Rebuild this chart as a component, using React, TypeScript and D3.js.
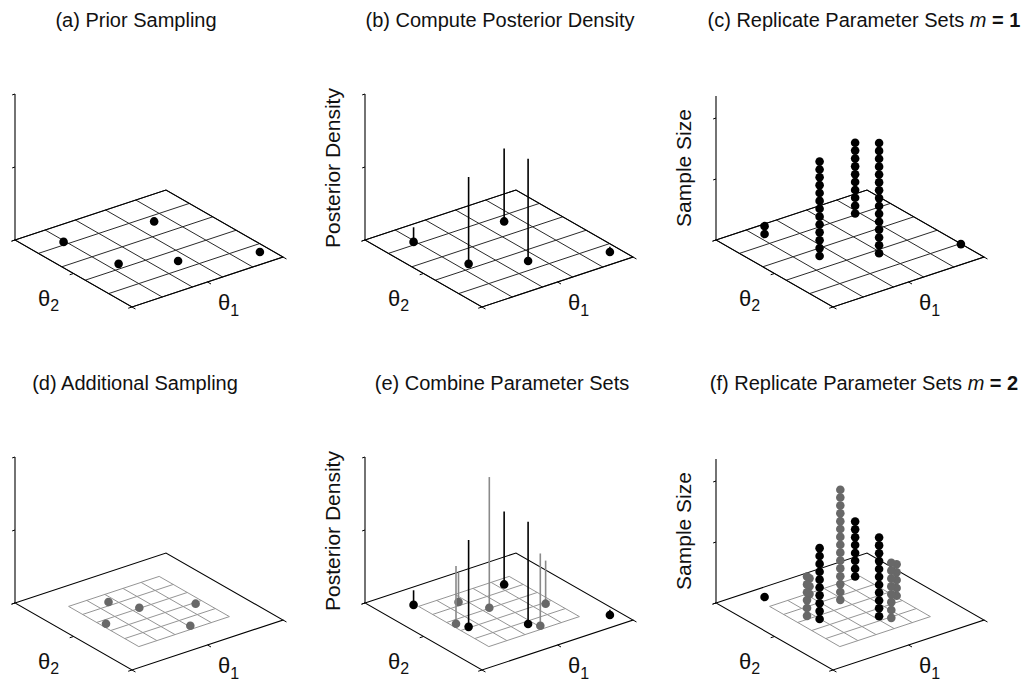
import React from "react";
import * as d3 from "d3";

// Prior draws (theta1, theta2) and their posterior densities
const priorTheta1 = [1.9, 7.2, 2.6, 5.3, 9.4];
const priorTheta2 = [1.7, 2.6, 5.5, 7.1, 8.8];
const priorDensity = [0.2, 1.0, 1.19, 1.4, 0.07];
const priorReplicatesM1 = [2, 10, 13, 15, 1];

// Additional draws inside the refined region
const addTheta1 = [4.0, 4.87, 7.53, 2.3, 5.69];
const addTheta2 = [2.83, 4.34, 5.72, 4.81, 7.64];
const addDensity = [0.4, 1.79, 0.59, 0.79, 0.99];

// Replicate counts after combining (m = 2)
const priorReplicatesM2 = [1, 8, 10, 11, 0];
const addReplicatesM2 = [3, 15, 5, 6, 8];

// Axes
const thetaDomain = [0, 10];
const outerGridTicks = [0, 2, 4, 6, 8, 10];
const innerGridTicks = [2, 3.2, 4.4, 5.6, 6.8, 8];
const thetaAxisTicks = [0, 5, 10];
const densityDomain = [0, 2];
const densityTicks = [0, 1, 2];
const sampleDomain = [0, 18.3];
const sampleTicks = [0, 7.75, 15.5];

const W = 1023;
const H = 683;
const FONT = "'Liberation Sans', Arial, Helvetica, sans-serif";
const E1 = [151, -50]; // screen vector spanning theta1
const E2 = [117, 67]; // screen vector spanning theta2
const BLACK = "#000";
const GREY = "#686868";
const GREY_STEM = "#8a8a8a";
const DOT_R = 4.3;

const s1 = d3.scaleLinear().domain(thetaDomain).range([0, 1]);
const s2 = d3.scaleLinear().domain(thetaDomain).range([0, 1]);
const zDensity = d3.scaleLinear().domain(densityDomain).range([0, 146]);
const zSample = d3.scaleLinear().domain(sampleDomain).range([0, 144]);

type Mark = {
  t1: number;
  t2: number;
  color: string;
  stemColor?: string;
  density?: number;
  count?: number;
};

type PanelCfg = {
  ox: number;
  oy: number;
  zKind: "density" | "sample";
  grid: "full" | "inner";
  ylabel?: string;
  marks: Mark[];
};

const toMarks = (
  t1: number[],
  t2: number[],
  color: string,
  extra: (i: number) => Partial<Mark>
): Mark[] => t1.map((v, i) => ({ t1: v, t2: t2[i], color, ...extra(i) }));

function Panel({ cfg }: { cfg: PanelCfg }) {
  const { ox, oy } = cfg;
  const z = cfg.zKind === "density" ? zDensity : zSample;
  const zTicks = cfg.zKind === "density" ? densityTicks : sampleTicks;
  const zMax = cfg.zKind === "density" ? densityDomain[1] : sampleDomain[1];
  const P = (t1: number, t2: number, h = 0): [number, number] => [
    ox + s1(t1) * E1[0] + s2(t2) * E2[0],
    oy + s1(t1) * E1[1] + s2(t2) * E2[1] - h,
  ];
  const [lo, hi] = thetaDomain;
  const n1 = Math.hypot(E1[0], E1[1]);
  const n2 = Math.hypot(E2[0], E2[1]);
  const u1 = [E1[0] / n1, E1[1] / n1];
  const u2 = [E2[0] / n2, E2[1] / n2];

  const gridTicks = cfg.grid === "full" ? outerGridTicks : innerGridTicks;
  const gLo = gridTicks[0];
  const gHi = gridTicks[gridTicks.length - 1];
  const gridLines: [number, number][][] = [];
  gridTicks.forEach((t) => {
    gridLines.push([P(t, gLo), P(t, gHi)]);
    gridLines.push([P(gLo, t), P(gHi, t)]);
  });
  const corners = [P(lo, lo), P(hi, lo), P(hi, hi), P(lo, hi)];

  const depth = (m: Mark) => s1(m.t1) * E1[1] + s2(m.t2) * E2[1];
  const marks = [...cfg.marks].sort((a, b) => depth(a) - depth(b));
  const line = d3.line();

  return (
    <g>
      {/* floor grid */}
      {gridLines.map((l, i) => (
        <path
          key={"g" + i}
          d={line(l) || ""}
          stroke={cfg.grid === "full" ? "#2a2a2a" : "#959595"}
          strokeWidth={1}
          fill="none"
        />
      ))}
      <path d={(line(corners) || "") + "Z"} stroke={BLACK} strokeWidth={1.1} fill="none" />
      {/* vertical axis */}
      <line x1={ox} y1={oy} x2={ox} y2={oy - z(zMax)} stroke={BLACK} strokeWidth={1.1} />
      {zTicks.map((t, i) => (
        <line
          key={"zt" + i}
          x1={ox}
          y1={oy - z(t)}
          x2={ox - u1[0] * 3}
          y2={oy - z(t) - u1[1] * 3}
          stroke={BLACK}
          strokeWidth={1}
        />
      ))}
      {/* theta axis ticks */}
      {thetaAxisTicks.map((t, i) => {
        const a = P(lo, t);
        const b = P(t, hi);
        return (
          <g key={"tt" + i}>
            <line x1={a[0]} y1={a[1]} x2={a[0] - u1[0] * 4} y2={a[1] - u1[1] * 4} stroke={BLACK} />
            <line x1={b[0]} y1={b[1]} x2={b[0] + u2[0] * 4} y2={b[1] + u2[1] * 4} stroke={BLACK} />
          </g>
        );
      })}
      {/* theta labels */}
      <text x={ox + 23} y={oy + 66} fontSize={22} fontFamily={FONT} fill="#111">
        θ<tspan fontSize={16} dy={5}>2</tspan>
      </text>
      <text x={ox + 203} y={oy + 70} fontSize={22} fontFamily={FONT} fill="#111">
        θ<tspan fontSize={16} dy={6}>1</tspan>
      </text>
      {cfg.ylabel && (
        <text
          transform={`translate(${ox - 25},${oy - 72}) rotate(-90)`}
          textAnchor="middle"
          fontSize={21}
          fontFamily={FONT}
          fill="#111"
        >
          {cfg.ylabel}
        </text>
      )}
      {/* samples */}
      {marks.map((m, i) => {
        const base = P(m.t1, m.t2);
        if (m.count !== undefined) {
          const ks = d3.range(1, m.count + 1);
          return (
            <g key={"m" + i}>
              {ks.map((k) => (
                <circle key={k} cx={base[0]} cy={base[1] - z(k)} r={DOT_R} fill={m.color} />
              ))}
            </g>
          );
        }
        return (
          <g key={"m" + i}>
            {m.density !== undefined && (
              <line
                x1={base[0]}
                y1={base[1]}
                x2={base[0]}
                y2={base[1] - z(m.density)}
                stroke={m.stemColor || m.color}
                strokeWidth={1.6}
              />
            )}
            <circle cx={base[0]} cy={base[1]} r={DOT_R} fill={m.color} />
          </g>
        );
      })}
    </g>
  );
}

const rows = [240, 603];
const cols = [15, 365, 716];

const panels: PanelCfg[] = [
  {
    ox: cols[0], oy: rows[0], zKind: "density", grid: "full",
    marks: toMarks(priorTheta1, priorTheta2, BLACK, () => ({})),
  },
  {
    ox: cols[1], oy: rows[0], zKind: "density", grid: "full", ylabel: "Posterior Density",
    marks: toMarks(priorTheta1, priorTheta2, BLACK, (i) => ({ density: priorDensity[i] })),
  },
  {
    ox: cols[2], oy: rows[0], zKind: "sample", grid: "full", ylabel: "Sample Size",
    marks: toMarks(priorTheta1, priorTheta2, BLACK, (i) => ({ count: priorReplicatesM1[i] })),
  },
  {
    ox: cols[0], oy: rows[1], zKind: "density", grid: "inner",
    marks: toMarks(addTheta1, addTheta2, GREY, () => ({})),
  },
  {
    ox: cols[1], oy: rows[1], zKind: "density", grid: "inner", ylabel: "Posterior Density",
    marks: [
      ...toMarks(priorTheta1, priorTheta2, BLACK, (i) => ({ density: priorDensity[i] })),
      ...toMarks(addTheta1, addTheta2, GREY, (i) => ({ density: addDensity[i], stemColor: GREY_STEM })),
    ],
  },
  {
    ox: cols[2], oy: rows[1], zKind: "sample", grid: "inner", ylabel: "Sample Size",
    marks: [
      ...toMarks(priorTheta1, priorTheta2, BLACK, (i) => ({ count: priorReplicatesM2[i] })),
      ...toMarks(addTheta1, addTheta2, GREY, (i) => ({ count: addReplicatesM2[i] })),
    ],
  },
];

const titleStyle = { fontSize: 20, fontFamily: FONT, fill: "#111" } as const;

export default function App() {
  return (
    <svg
      width={W}
      height={H}
      style={{ position: "absolute", left: 0, top: 0, background: "#fff" }}
    >
      <rect width={W} height={H} fill="#fff" />
      <text x={136} y={27} textAnchor="middle" {...titleStyle}>(a) Prior Sampling</text>
      <text x={500} y={27} textAnchor="middle" {...titleStyle}>(b) Compute Posterior Density</text>
      <text x={864} y={27} textAnchor="middle" {...titleStyle}>
        (c) Replicate Parameter Sets <tspan fontStyle="italic">m</tspan>
        <tspan fontWeight="bold"> = 1</tspan>
      </text>
      <text x={135} y={390} textAnchor="middle" {...titleStyle}>(d) Additional Sampling</text>
      <text x={502} y={390} textAnchor="middle" {...titleStyle}>(e) Combine Parameter Sets</text>
      <text x={864} y={390} textAnchor="middle" {...titleStyle}>
        (f) Replicate Parameter Sets <tspan fontStyle="italic">m</tspan>
        <tspan fontWeight="bold"> = 2</tspan>
      </text>
      {panels.map((p, i) => (
        <Panel key={i} cfg={p} />
      ))}
    </svg>
  );
}
